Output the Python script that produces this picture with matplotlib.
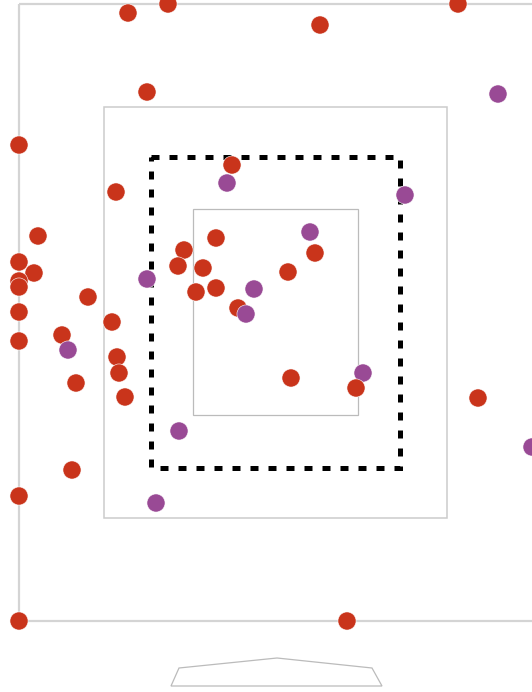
from matplotlib import pyplot as plt
from matplotlib.patches import Rectangle, Polygon
import numpy as np


# shot positions, in pixel units of the pitch drawing (y grows downwards)
shot_x = [128, 168, 320, 458, 147, 19, 116, 232, 227, 498, 405, 38, 216, 184,
          178, 203, 19, 34, 19, 19, 147, 88, 196, 216, 254, 310, 315, 288,
          238, 246, 19, 112, 62, 19, 68, 117, 119, 76, 125, 291, 363, 356,
          478, 532, 179, 72, 19, 156, 19, 347]
shot_y = [13, 4, 25, 4, 92, 145, 192, 165, 183, 94, 195, 236, 238, 250,
          266, 268, 262, 273, 281, 287, 279, 297, 292, 288, 289, 232, 253, 272,
          308, 314, 312, 322, 335, 341, 350, 357, 373, 383, 397, 378, 373, 388,
          398, 447, 431, 470, 496, 503, 621, 621]
# 0 = missed (red), 1 = on target (purple)
outcome = [0, 0, 0, 0, 0, 0, 0, 0, 1, 1, 1, 0, 0, 0,
           0, 0, 0, 0, 0, 0, 1, 0, 0, 0, 1, 1, 0, 0,
           0, 1, 0, 0, 0, 0, 1, 0, 0, 0, 0, 0, 1, 0,
           0, 1, 1, 0, 0, 1, 0, 0]

colors_map = {
    0: '#c9341b',
    1: '#994a95',
}

# pitch markings: x, y, width, height
field = (19, 4, 700, 617)
penalty_box = (104, 107, 343, 411)
six_box = (193, 209, 165, 206)
zone_box = (151, 157, 249, 311)
goal = [(171, 686), (179, 668), (277, 658), (372, 668), (382, 686)]


fig = plt.figure(figsize=(5.32, 6.92), dpi=100)
ax = fig.add_axes([0, 0, 1, 1])
ax.set_xlim(0, 532)
ax.set_ylim(692, 0)
ax.axis('off')

ax.add_patch(Rectangle(field[:2], field[2], field[3], fill=False,
                       edgecolor='#d4d4d4', linewidth=1.6))
ax.add_patch(Rectangle(penalty_box[:2], penalty_box[2], penalty_box[3],
                       fill=False, edgecolor='#cccccc', linewidth=1.1))
ax.add_patch(Rectangle(six_box[:2], six_box[2], six_box[3], fill=False,
                       edgecolor='#bbbbbb', linewidth=0.9))
ax.add_patch(Polygon(goal, closed=True, fill=False, edgecolor='#bbbbbb',
                     linewidth=0.9))

zone = Rectangle(zone_box[:2], zone_box[2], zone_box[3], fill=False,
                 edgecolor='black', linewidth=3.6)
zone.set_linestyle((0, (1.6, 2.0)))
ax.add_patch(zone)

colors = [colors_map[o] for o in outcome]
ax.scatter(np.array(shot_x), np.array(shot_y), s=170, c=colors,
           edgecolors='white', linewidths=0.4, zorder=3, clip_on=True)

fig.savefig('out.png', dpi=100)
